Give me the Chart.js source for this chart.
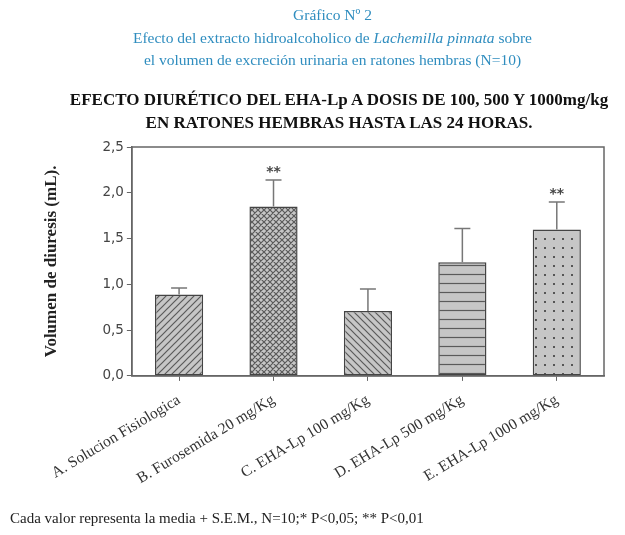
<!DOCTYPE html>
<html>
<head>
<meta charset="utf-8">
<script src="https://cdn.jsdelivr.net/npm/chart.js@4.4.0/dist/chart.umd.min.js"></script>
<style>
  body { margin: 0; background: #fff; }
  #wrap { position: relative; width: 625px; height: 535px; overflow: hidden; }
  #head { position: absolute; top: 4px; left: 20px; width: 625px; text-align: center;
          color: #2f8dbf; font: 15.5px "Liberation Serif", serif; line-height: 22.5px; }
  #title { position: absolute; top: 88px; left: 39px; width: 600px; text-align: center;
           color: #111; font: bold 17px "Liberation Serif", serif; line-height: 23px; }
  #foot { position: absolute; top: 510px; left: 10px; color: #222;
          font: 15px "Liberation Serif", serif; }
  #box { position: absolute; top: 0; left: 0; width: 625px; height: 535px; }
</style>
</head>
<body>
<div id="wrap">
  <div id="box"><canvas id="myChart"></canvas></div>
  <div id="head">Gráfico Nº 2<br>Efecto del extracto hidroalcoholico de <i>Lachemilla pinnata</i> sobre<br>el volumen de excreción urinaria en ratones hembras (N=10)</div>
  <div id="title">EFECTO DIURÉTICO DEL EHA-Lp A DOSIS DE 100, 500 Y 1000mg/kg<br>EN RATONES HEMBRAS HASTA LAS 24 HORAS.</div>
  <div id="foot">Cada valor representa la media + S.E.M., N=10;* P&lt;0,05; ** P&lt;0,01</div>
</div>
<script>
const groups = [
  "A. Solucion Fisiologica",
  "B. Furosemida 20 mg/Kg",
  "C. EHA-Lp 100 mg/Kg",
  "D. EHA-Lp 500 mg/Kg",
  "E. EHA-Lp 1000 mg/Kg",
];
const means = [0.89, 1.85, 0.71, 1.24, 1.6];
const sems = [0.07, 0.29, 0.24, 0.37, 0.3];
const marks = ["", "**", "", "", "**"];
const yTicks = [0, 0.5, 1.0, 1.5, 2.0, 2.5];

function makePattern(kind) {
  const size = kind === "cross" ? 6 : (kind === "hline" || kind === "dots") ? 9 : 7;
  const c = document.createElement("canvas");
  c.width = size;
  c.height = size;
  const g = c.getContext("2d");
  g.fillStyle = "#c6c6c6";
  g.fillRect(0, 0, size, size);
  g.strokeStyle = "#5a5a5a";
  g.fillStyle = "#555";
  g.lineWidth = 1.2;
  g.beginPath();
  if (kind === "up" || kind === "cross") {
    g.moveTo(-1, size + 1); g.lineTo(size + 1, -1);
    g.moveTo(-1, 1); g.lineTo(1, -1);
    g.moveTo(size - 1, size + 1); g.lineTo(size + 1, size - 1);
  }
  if (kind === "down" || kind === "cross") {
    g.moveTo(-1, -1); g.lineTo(size + 1, size + 1);
    g.moveTo(size - 1, -1); g.lineTo(size + 1, 1);
    g.moveTo(-1, size - 1); g.lineTo(1, size + 1);
  }
  if (kind === "hline") {
    g.moveTo(0, 4.5); g.lineTo(size, 4.5);
  }
  g.stroke();
  if (kind === "dots") {
    g.fillRect(4, 4, 2, 2);
  }
  return g.createPattern(c, "repeat");
}

const fills = ["up", "cross", "down", "hline", "dots"].map(makePattern);

const boxPlugin = {
  id: "boxPlugin",
  afterDraw(chart) {
    const a = chart.chartArea;
    const ctx = chart.ctx;
    ctx.save();
    ctx.strokeStyle = "#666";
    ctx.lineWidth = 1.5;
    ctx.strokeRect(a.left, a.top, a.right - a.left, a.bottom - a.top);
    ctx.restore();
  },
};

const errorBars = {
  id: "errorBars",
  afterDatasetsDraw(chart) {
    const ctx = chart.ctx;
    const y = chart.scales.y;
    const meta = chart.getDatasetMeta(0);
    ctx.save();
    meta.data.forEach(function (bar, i) {
      const top = y.getPixelForValue(means[i] + sems[i]);
      ctx.strokeStyle = "#777";
      ctx.lineWidth = 1.5;
      ctx.beginPath();
      ctx.moveTo(bar.x, bar.y);
      ctx.lineTo(bar.x, top);
      ctx.moveTo(bar.x - 8, top);
      ctx.lineTo(bar.x + 8, top);
      ctx.stroke();
      if (marks[i]) {
        ctx.fillStyle = "#444";
        ctx.font = "bold 14px 'DejaVu Sans'";
        ctx.textAlign = "center";
        ctx.textBaseline = "bottom";
        ctx.fillText(marks[i], bar.x, top - 1);
      }
    });
    ctx.restore();
  },
};

const ctx = document.getElementById("myChart");
const myChart = new Chart(ctx, {
  type: "bar",
  data: {
    labels: groups,
    datasets: [
      {
        data: means,
        backgroundColor: fills,
        borderColor: "#444",
        borderWidth: 1.5,
        borderSkipped: false,
        barPercentage: 0.51,
        categoryPercentage: 1,
      },
    ],
  },
  options: {
    responsive: true,
    maintainAspectRatio: false,
    animation: false,
    events: [],
    layout: {
      padding: { top: 147, left: 41, right: 21, bottom: 37 },
    },
    plugins: {
      legend: { display: false },
      tooltip: { enabled: false },
    },
    scales: {
      x: {
        offset: true,
        grid: {
          display: true,
          offset: false,
          drawOnChartArea: false,
          drawTicks: true,
          tickLength: 5,
          color: "#666",
        },
        border: { color: "#666", width: 1.5 },
        ticks: {
          minRotation: 31,
          maxRotation: 31,
          color: "#333",
          padding: 10,
          font: { family: "'Liberation Serif'", size: 15.5 },
        },
      },
      y: {
        min: 0,
        max: 2.5,
        afterBuildTicks: function (axis) {
          axis.ticks = yTicks.map(function (v) { return { value: v }; });
        },
        grid: {
          display: true,
          drawOnChartArea: false,
          drawTicks: true,
          tickLength: 5,
          color: "#666",
        },
        border: { color: "#666", width: 1.5 },
        ticks: {
          color: "#444",
          padding: 3,
          font: { family: "'DejaVu Sans'", size: 13.5 },
          callback: function (v) {
            return v.toFixed(1).replace(".", ",");
          },
        },
        title: {
          display: true,
          text: "Volumen de diuresis (mL).",
          color: "#222",
          font: { family: "'Liberation Serif'", size: 17, weight: "bold" },
          padding: { top: 0, bottom: 38 },
        },
      },
    },
  },
  plugins: [boxPlugin, errorBars],
});
</script>
</body>
</html>
